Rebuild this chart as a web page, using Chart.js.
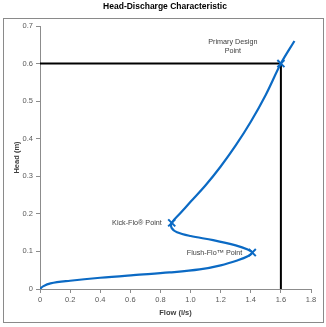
<!DOCTYPE html>
<html>
<head>
<meta charset="utf-8">
<script src="https://cdn.jsdelivr.net/npm/chart.js@4"></script>
<style>
  html, body { margin: 0; padding: 0; background: #fff; }
  #wrap { width: 326px; height: 327px; }
</style>
</head>
<body>
<div id="wrap"><canvas id="chart" width="326" height="327"></canvas></div>
<script>
// head-discharge curve (flow l/s, head m)
const flow = [0, 0.02, 0.07, 0.2, 0.4, 0.62, 0.86, 1.06, 1.2, 1.31, 1.38, 1.41,
              1.38, 1.3, 1.15, 1.0, 0.91, 0.875, 0.875, 0.93, 1.0, 1.1, 1.2, 1.3, 1.4, 1.5, 1.6, 1.69];
const head = [0, 0.007, 0.015, 0.022, 0.03, 0.037, 0.044, 0.052, 0.063, 0.076, 0.087, 0.097,
              0.105, 0.116, 0.13, 0.141, 0.151, 0.162, 0.176, 0.201, 0.232, 0.276, 0.326, 0.382, 0.445, 0.517, 0.6, 0.66];

// marked points
const keyNames = [['Primary Design', 'Point'], ['Kick-Flo® Point'], ['Flush-Flo™ Point']];
const keyFlow = [1.6, 0.875, 1.41];
const keyHead = [0.6, 0.176, 0.097];

const xTicks = [0, 0.2, 0.4, 0.6, 0.8, 1, 1.2, 1.4, 1.6, 1.8];
const yTicks = [0, 0.1, 0.2, 0.3, 0.4, 0.5, 0.6, 0.7];

const blue = '#0b6ac4';
const axisGrey = '#8c8c8c';
const textGrey = '#595959';
const font = "'Liberation Sans', Arial, sans-serif";

const curve = flow.map((f, i) => ({ x: f, y: head[i] }));
const marks = keyFlow.map((f, i) => ({ x: f, y: keyHead[i] }));
// design point guide lines: across from the axis, then down to the axis
const guide = [
  { x: 0, y: keyHead[0] },
  { x: keyFlow[0], y: keyHead[0] },
  { x: keyFlow[0], y: 0 }
];

const frameAndLabels = {
  id: 'frameAndLabels',
  beforeDraw(chart) {
    const c = chart.ctx;
    c.save();
    c.strokeStyle = '#8a8a8a';
    c.lineWidth = 1;
    c.strokeRect(3.5, 18.5, 320, 304);
    c.fillStyle = '#000';
    c.font = 'bold 8.5px ' + font;
    c.textAlign = 'center';
    c.textBaseline = 'middle';
    c.fillText('Head-Discharge Characteristic', 165, 7);
    c.restore();
  },
  afterDatasetsDraw(chart) {
    const c = chart.ctx;
    const xs = chart.scales.x, ys = chart.scales.y;
    c.save();
    c.fillStyle = '#404040';
    c.font = '7.2px ' + font;
    c.textBaseline = 'middle';
    keyNames.forEach((lines, i) => {
      const px = xs.getPixelForValue(keyFlow[i]);
      const py = ys.getPixelForValue(keyHead[i]);
      if (i === 0) {
        c.textAlign = 'center';
        c.fillText(lines[0], px - 48, py - 22);
        c.fillText(lines[1], px - 48, py - 13);
      } else {
        c.textAlign = 'right';
        c.fillText(lines[0], px - 10, py);
      }
    });
    c.restore();
  }
};

new Chart(document.getElementById('chart'), {
  type: 'scatter',
  data: {
    datasets: [
      {
        data: guide,
        showLine: true,
        borderColor: '#000',
        borderWidth: 2,
        pointRadius: 0,
        tension: 0,
        order: 3
      },
      {
        data: curve,
        showLine: true,
        borderColor: blue,
        borderWidth: 2.2,
        pointRadius: 0,
        tension: 0.35,
        order: 2
      },
      {
        data: marks,
        showLine: false,
        pointStyle: 'crossRot',
        pointRadius: 5,
        borderColor: blue,
        borderWidth: 2,
        order: 1
      }
    ]
  },
  options: {
    responsive: false,
    animation: false,
    layout: { padding: { left: 0, right: 15, top: 26, bottom: 7 } },
    plugins: {
      legend: { display: false },
      tooltip: { enabled: false },
      title: { display: false }
    },
    scales: {
      x: {
        type: 'linear',
        min: 0,
        max: 1.8,
        afterBuildTicks: s => { s.ticks = xTicks.map(v => ({ value: v })); },
        afterFit: s => { s.height = 31; },
        grid: { drawOnChartArea: false, drawTicks: true, tickLength: 4, color: axisGrey },
        border: { display: true, color: axisGrey },
        ticks: { color: textGrey, font: { family: font, size: 7.5 }, padding: 2, maxRotation: 0 },
        title: {
          display: true,
          text: 'Flow (l/s)',
          color: '#404040',
          font: { family: font, size: 7.5, weight: 'bold' },
          padding: { top: 2, bottom: 3 }
        }
      },
      y: {
        type: 'linear',
        min: 0,
        max: 0.7,
        afterBuildTicks: s => { s.ticks = yTicks.map(v => ({ value: v })); },
        afterFit: s => { s.width = 40; },
        grid: { drawOnChartArea: false, drawTicks: true, tickLength: 4, color: axisGrey },
        border: { display: true, color: axisGrey },
        ticks: { color: textGrey, font: { family: font, size: 7.5 }, padding: 3 },
        title: {
          display: true,
          text: 'Head (m)',
          color: '#404040',
          font: { family: font, size: 7.5, weight: 'bold' },
          padding: { top: 12, bottom: 0 }
        }
      }
    }
  },
  plugins: [frameAndLabels]
});
</script>
</body>
</html>
